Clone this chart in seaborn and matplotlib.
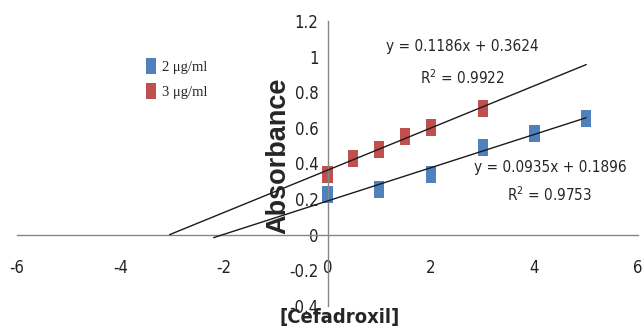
import numpy as np
import pandas as pd
import seaborn as sns
import matplotlib
matplotlib.use("Agg")
import matplotlib.pyplot as plt
from matplotlib.lines import Line2D

# values
x_2ug = [0, 1, 2, 3, 4, 5]
y_2ug = [0.228, 0.254, 0.336, 0.492, 0.566, 0.652]
x_3ug = [0, 0.5, 1, 1.5, 2, 3]
y_3ug = [0.339, 0.430, 0.478, 0.550, 0.600, 0.708]
series_names = ["2 μg/ml", "3 μg/ml"]
colors = ["#4F81BD", "#C0504D"]

# linear trend lines (slope, intercept, r2, start of backward forecast)
fits = [(0.0935, 0.1896, 0.9753, -2.2), (0.1186, 0.3624, 0.9922, -3.05)]
fit_end = 5

x_ticks = [-6, -4, -2, 0, 2, 4, 6]
y_ticks = [-0.4, -0.2, 0, 0.2, 0.4, 0.6, 0.8, 1, 1.2]
y_tick_labels = ["-0.4", "-0.2", "0", "0.2", "0.4", "0.6", "0.8", "1", "1.2"]

df = pd.DataFrame({
    "conc": x_2ug + x_3ug,
    "abs": y_2ug + y_3ug,
    "series": [series_names[0]] * len(x_2ug) + [series_names[1]] * len(x_3ug),
})

sns.set_style("white")
plt.rcParams["font.family"] = ["DejaVu Sans"]
plt.rcParams["font.stretch"] = "condensed"
plt.rcParams["mathtext.fontset"] = "custom"
plt.rcParams["mathtext.rm"] = "DejaVu Sans:stretch=condensed"

# tall rectangle marker like the Excel one
rect = [(-0.3, -0.5), (0.3, -0.5), (0.3, 0.5), (-0.3, 0.5), (-0.3, -0.5)]

fig = plt.figure(figsize=(6.44, 3.32), dpi=100)
ax = fig.add_axes([17 / 644, 1 - 306 / 332, 621 / 644, 285 / 332])

for (slope, icpt, r2, x0), col in zip(fits, colors):
    xs = np.array([x0, fit_end])
    ax.plot(xs, slope * xs + icpt, color="#1a1a1a", lw=1.0, zorder=3)

sns.scatterplot(data=df, x="conc", y="abs", hue="series", hue_order=series_names,
                palette=dict(zip(series_names, colors)), marker=rect, s=150,
                linewidth=0, legend=False, ax=ax, zorder=2)

ax.set_xlim(-6, 6)
ax.set_ylim(-0.4, 1.2)
ax.spines["left"].set_position(("data", 0))
ax.spines["bottom"].set_position(("data", 0))
for s in ["top", "right"]:
    ax.spines[s].set_visible(False)
for s in ["left", "bottom"]:
    ax.spines[s].set_color("#868686")
    ax.spines[s].set_linewidth(1.0)

ax.set_xticks(x_ticks)
ax.set_xticklabels([str(t) for t in x_ticks])
ax.set_yticks(y_ticks)
ax.set_yticklabels(y_tick_labels)
ax.tick_params(axis="x", direction="out", length=4.5, width=1, color="#868686",
               labelsize=12, pad=13, labelcolor="#222222")
ax.tick_params(axis="y", direction="out", length=4.5, width=1, color="#868686",
               labelsize=12, pad=2, labelcolor="#222222")
ax.set_xlabel("")
ax.set_ylabel("")

# equation labels
ax.text(2.6, 1.055, "y = 0.1186x + 0.3624", ha="center", va="center", fontsize=11)
ax.text(2.6, 0.88, "R$^2$ = 0.9922", ha="center", va="center", fontsize=11)
ax.text(4.3, 0.38, "y = 0.0935x + 0.1896", ha="center", va="center", fontsize=11)
ax.text(4.3, 0.225, "R$^2$ = 0.9753", ha="center", va="center", fontsize=11)

fig.text(278 / 644, 1 - 156 / 332, "Absorbance", rotation=90, ha="center", va="center",
         fontsize=19.5, fontweight="bold", fontstretch="normal",
         family=["Liberation Sans", "DejaVu Sans"])
fig.text(340 / 644, 1 - 318 / 332, "[Cefadroxil]", ha="center", va="center",
         fontsize=14.5, fontweight="bold")

handles = [Line2D([], [], marker=rect, ls="none", color=c, markersize=12, markeredgewidth=0)
           for c in colors]
ax.legend(handles, series_names, loc="upper left", bbox_to_anchor=(132 / 644, 1 - 48 / 332),
          bbox_transform=fig.transFigure, frameon=False, handlelength=0.8,
          handletextpad=0.35, labelspacing=0.8,
          prop={"family": ["Liberation Serif", "DejaVu Serif"], "size": 10.5, "stretch": "normal"})

fig.savefig("out.png", dpi=100)
